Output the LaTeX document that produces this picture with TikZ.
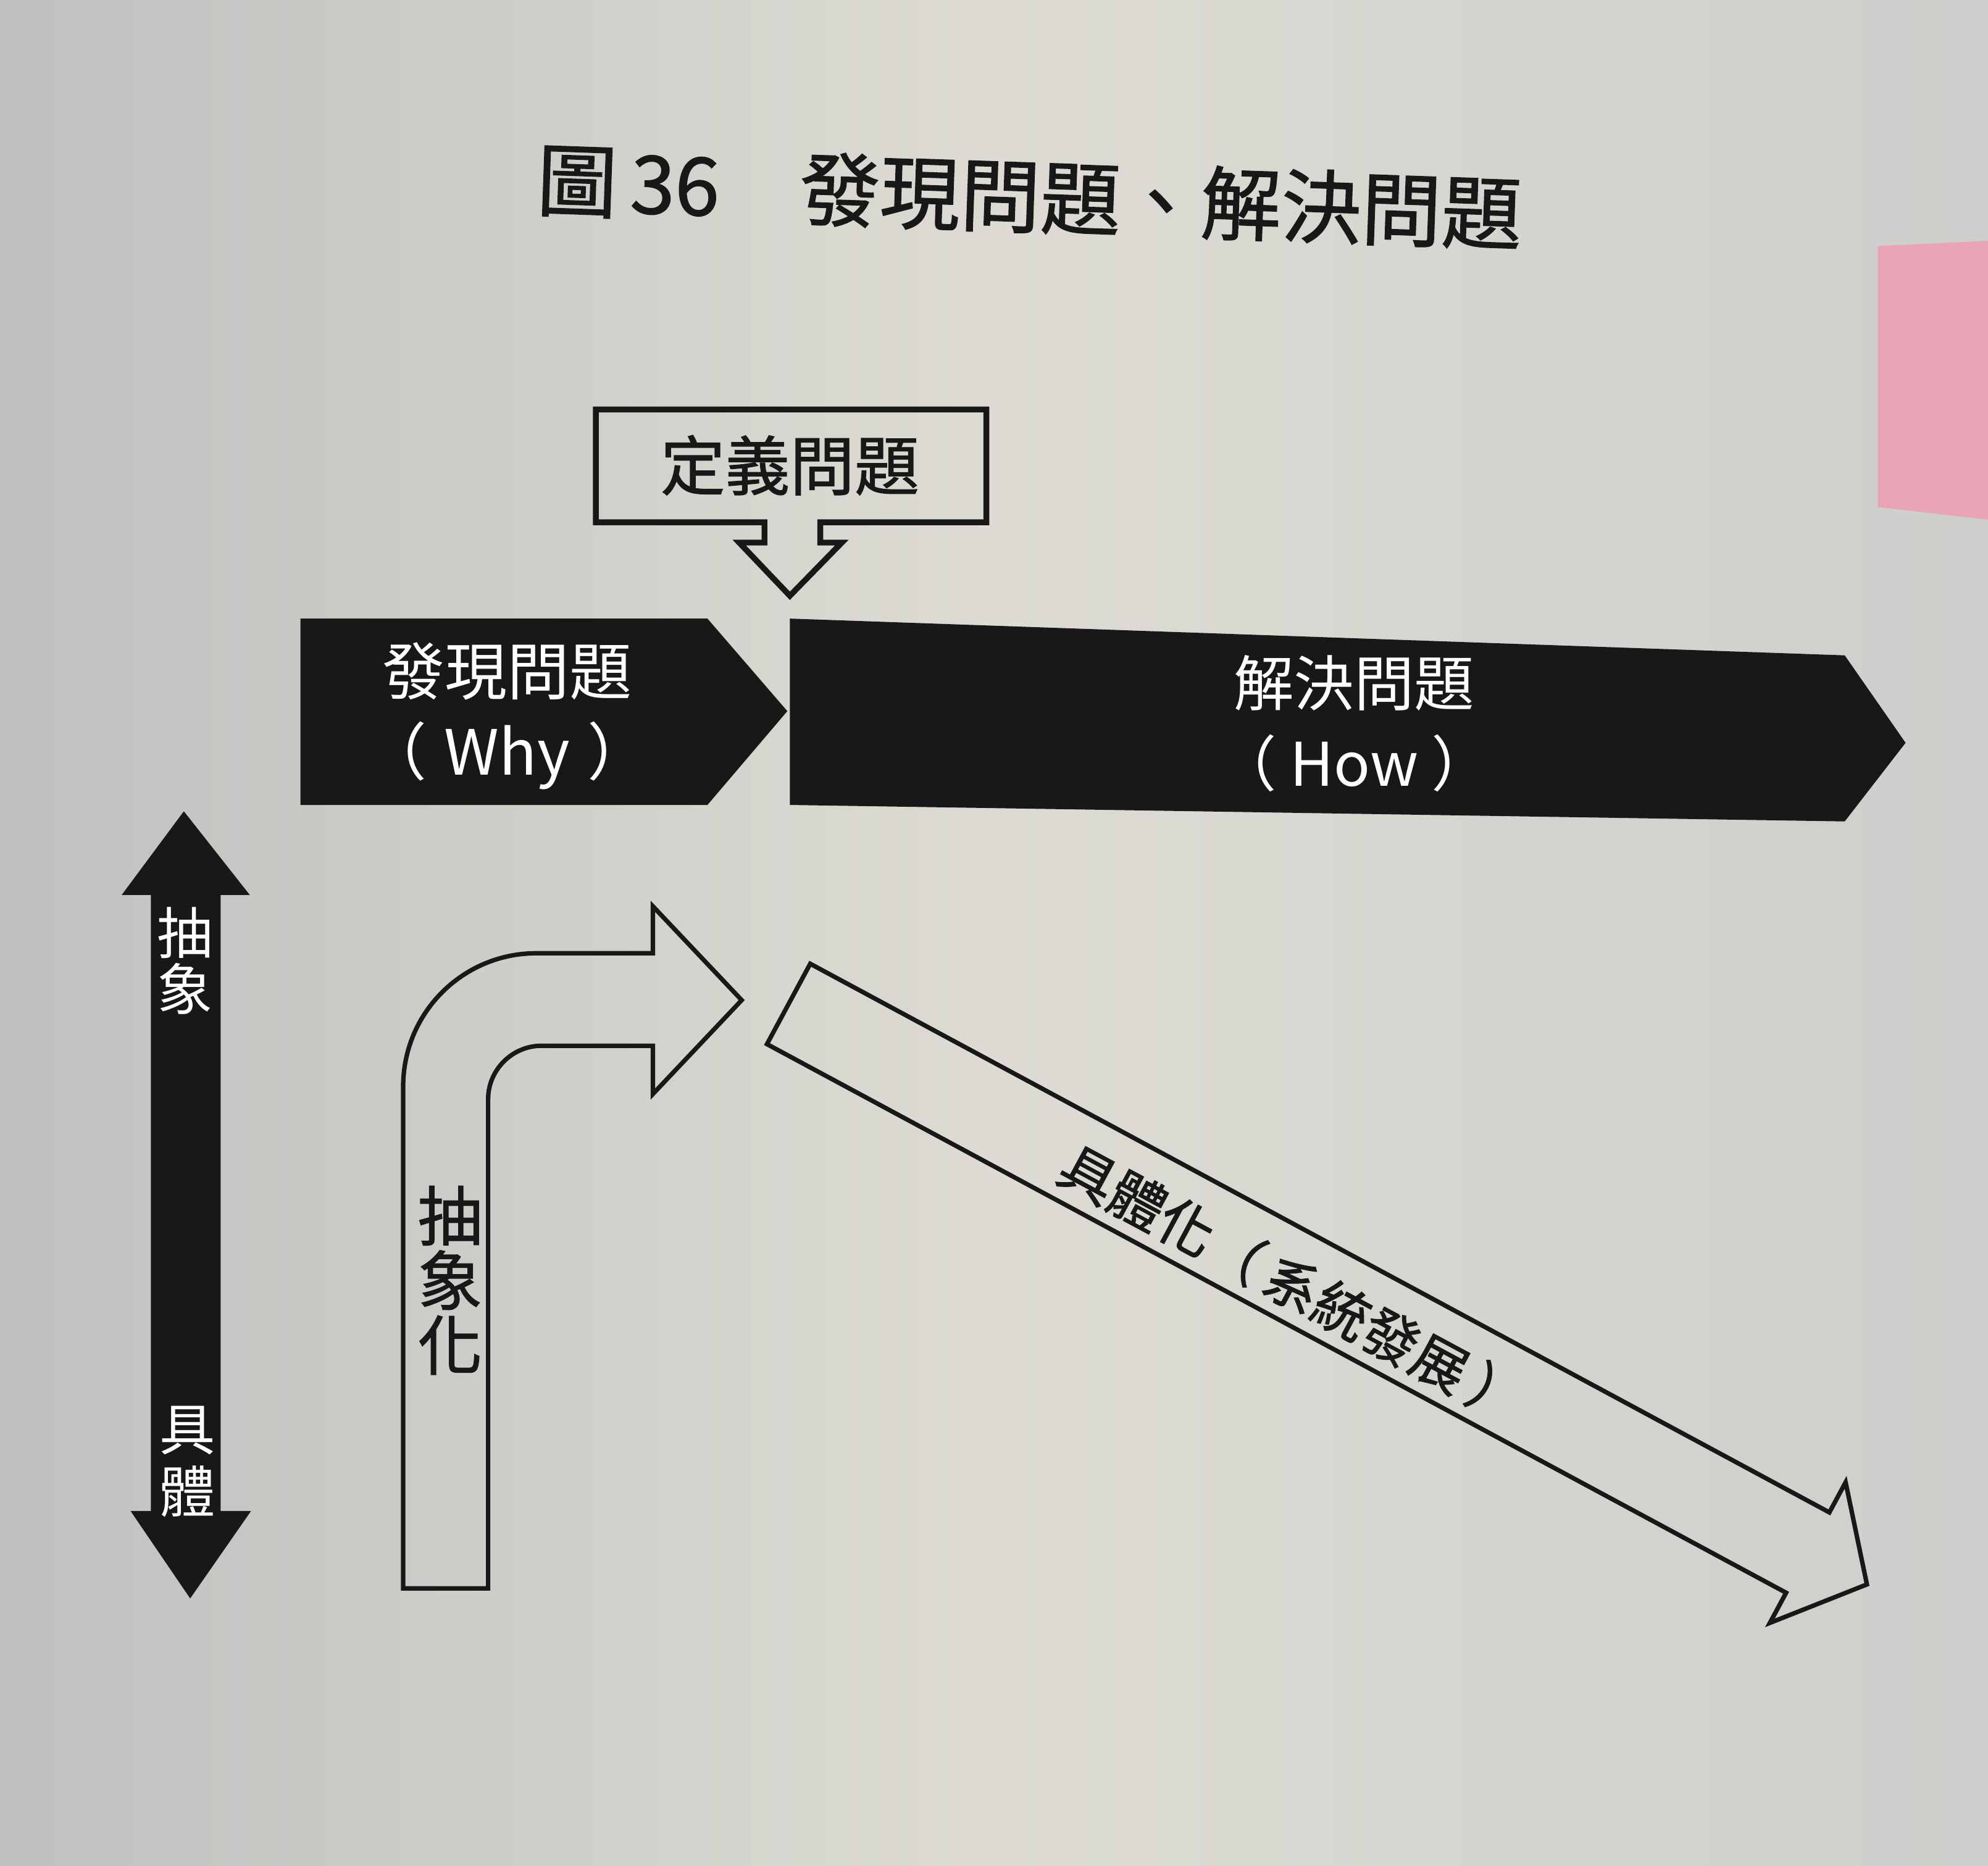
\documentclass[tikz,border=0pt]{standalone}
\usepackage{fontspec}
\setmainfont{Noto Sans CJK TC}
\newfontfamily\medfont[FakeBold=1.2]{Noto Sans CJK TC}
\definecolor{ink}{RGB}{24,24,24}
\definecolor{paperL}{RGB}{190,193,191}
\definecolor{paperM}{RGB}{221,219,211}
\definecolor{paperR}{RGB}{205,207,204}
\definecolor{note}{RGB}{233,165,182}
\tikzstyle{blk} = [fill=ink]
\tikzstyle{outl} = [draw=ink, line width=1pt, line join=miter]
\tikzstyle{wlab} = [text=white, align=center, inner sep=0pt]
\tikzstyle{klab} = [text=ink, align=center, inner sep=0pt]
\newcommand{\fsz}[2]{\fontsize{#1}{#2}\selectfont}

\begin{document}
\begin{tikzpicture}[x=0.01cm, y=-0.01cm]
    % paper
    \path [use as bounding box] (0,0) rectangle (1568,1472);
    \shade [left color=paperL, right color=paperR, middle color=paperM] (0,0) rectangle (1568,1472);
    \fill [note] (1481,194) -- (1568,190) -- (1568,410) -- (1481,400) -- cycle;

    % title
    \node (title) [klab, rotate=-2, font=\medfont\fsz{18}{20}] at (812,155) {圖\,36　發現問題、解決問題};

    % define problem
    \draw [outl, line width=1.3pt] (470,323) -- (778,323) -- (778,412) -- (647,412) -- (647,428) -- (664,428)
        -- (623,470) -- (583,428) -- (603,428) -- (603,412) -- (470,412) -- cycle;
    \node (define) [klab, font=\medfont\fsz{14.5}{16}] at (623,367) {定義問題};

    % why / how
    \fill [blk] (237,488) -- (558,488) -- (621,561) -- (558,635) -- (237,635) -- cycle;
    \node (why) [wlab, font=\fsz{14}{18}] at (400,565) {發現問題\\（\hspace{4pt}Why\hspace{4pt}）};
    \fill [blk] (623,488) -- (1455,517) -- (1503,586) -- (1455,648) -- (623,635) -- cycle;
    \node (how) [wlab, font=\fsz{13.5}{18}] at (1068,571) {解決問題\\（\hspace{3pt}How\hspace{3pt}）};

    % abstract <-> concrete
    \fill [blk] (145,640) -- (197,706) -- (174,706) -- (174,1192) -- (198,1192) -- (150,1261)
        -- (103,1192) -- (119,1192) -- (119,706) -- (96,706) -- cycle;
    \node (abst) [wlab, font=\fsz{12.5}{12.5}] at (146,758) {抽\\象};
    \node (conc) [wlab, font=\fsz{12.5}{14}] at (148,1153) {具\\體};

    % abstraction
    \draw [outl] (318,1253) -- (318,857) .. controls (318,799) and (365,752) .. (423,752) -- (515,752)
        -- (515,715) -- (585,789) -- (515,863) -- (515,825) -- (427,825)
        .. controls (404,825) and (385,844) .. (385,867) -- (385,1253) -- cycle;
    \node (abstr) [klab, font=\medfont\fsz{14.5}{14.5}] at (355,1010) {抽\\象\\化};

    % concretization
    \begin{scope}[shift={(622,792)}, rotate=-28.3]
        \draw [outl] (0,-36) -- (913,-36) -- (913,-63) -- (966,0) -- (913,63) -- (913,36) -- (0,36) -- cycle;
        \node (concr) [klab, transform shape, font=\medfont\fsz{12.5}{14}] at (455,6) {具體化（\hspace{2pt}系統發展\hspace{2pt}）};
    \end{scope}
\end{tikzpicture}
\end{document}
